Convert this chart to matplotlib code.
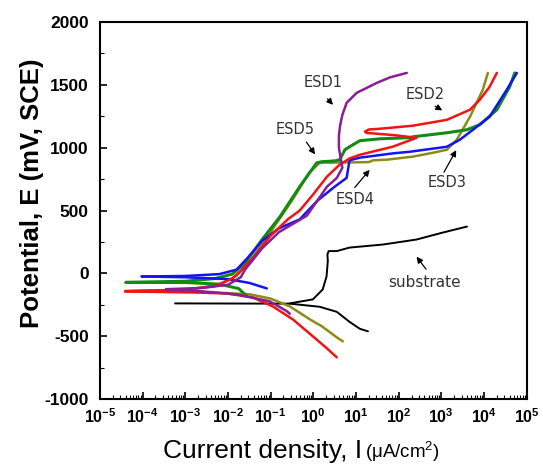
import matplotlib.pyplot as plt
import numpy as np
from matplotlib.ticker import LogLocator, NullFormatter

plt.rcParams['font.family'] = ['Liberation Sans', 'DejaVu Sans']
plt.rcParams['mathtext.fontset'] = 'custom'
plt.rcParams['mathtext.rm'] = 'Liberation Sans'
plt.rcParams['mathtext.bf'] = 'Liberation Sans:bold'
plt.rcParams['axes.unicode_minus'] = False

# log10 of current density (uA/cm2) and potential (mV vs SCE)
# substrate
sub_cat_logi = [-3.24, -0.55, 0.15, 0.55, 0.85, 1.09, 1.28]
sub_cat_e = [-238, -240, -265, -305, -385, -440, -460]
sub_an_logi = [-0.55, -0.01, 0.22, 0.31, 0.34, 0.33, 0.36, 0.55, 0.85, 1.63, 2.42, 3.03, 3.60]
sub_an_e = [-238, -206, -127, -24, 100, 151, 178, 178, 206, 230, 270, 325, 373]

# ESD1 (purple)
esd1_cat_logi = [-3.45, -2.59, -1.79, -1.02, -0.62, -0.55]
esd1_cat_e = [-125, -143, -167, -222, -300, -320]
esd1_an_logi = [-3.45, -2.6, -2.0, -1.7, -1.6, -1.2, -0.8, -0.15, 0.32, 0.55, 0.68, 0.64,
                0.6, 0.6, 0.63, 0.68, 0.78, 1.02, 1.49, 1.8, 2.19]
esd1_an_e = [-125, -115, -90, -30, 30, 200, 330, 460, 690, 760, 840, 920,
             1000, 1100, 1180, 1260, 1357, 1437, 1516, 1560, 1595]

# ESD2 (red)
esd2_cat_logi = [-4.41, -2.82, -2.03, -1.42, -0.95, -0.48, -0.01, 0.3, 0.55]
esd2_cat_e = [-143, -151, -159, -190, -262, -365, -500, -590, -667]
esd2_an_logi = [-4.41, -3.0, -2.3, -1.9, -1.7, -1.4, -1.0, -0.6, -0.32, 0.0, 0.32, 0.6, 0.85,
                1.09, 1.86, 2.42, 1.9, 1.25, 1.21, 1.3, 1.56, 2.33, 3.13, 3.67, 3.90, 4.13, 4.30]
esd2_an_e = [-140, -130, -100, -40, 20, 130, 300, 430, 500, 630, 770, 860, 915,
             944, 1008, 1079, 1100, 1118, 1128, 1145, 1151, 1175, 1222, 1302, 1381, 1484, 1595]

# ESD3 (blue)
esd3_cat_logi = [-4.02, -3.0, -2.0, -1.5, -1.09]
esd3_cat_e = [-24, -30, -45, -75, -119]
esd3_an_logi = [-4.02, -3.0, -2.2, -1.8, -1.55, -1.2, -0.8, -0.32, 0.1, 0.5, 0.78, 0.85,
                1.09, 1.86, 2.26, 3.13, 3.43, 3.74, 4.13, 4.53, 4.77]
esd3_an_e = [-24, -20, -5, 30, 120, 260, 360, 430, 580, 690, 760, 900,
             921, 955, 968, 1008, 1063, 1143, 1246, 1460, 1595]

# ESD4 (olive)
esd4_cat_logi = [-4.4, -2.5, -1.5, -1.0, -0.55, -0.08, 0.2, 0.55, 0.69]
esd4_cat_e = [-143, -148, -165, -200, -262, -365, -420, -508, -540]
esd4_an_logi = [-4.4, -3.0, -2.2, -1.8, -1.45, -1.0, -0.5, -0.1, 0.15, 1.0, 1.3, 1.4, 1.72,
                2.33, 2.8, 3.13, 3.36, 3.67, 3.97, 4.09]
esd4_an_e = [-140, -130, -90, -20, 110, 330, 580, 800, 881, 884, 886, 900, 905,
             929, 960, 984, 1063, 1246, 1460, 1595]

# ESD5 (green)
esd5_cat_logi = [-4.39, -3.0, -2.2, -1.75, -1.56]
esd5_cat_e = [-71, -72, -85, -120, -180]
esd5_an_logi = [-4.39, -3.0, -2.3, -1.9, -1.6, -1.2, -0.78, -0.32, 0.08, 0.2, 0.5, 0.62, 0.74,
                0.85, 1.09, 1.56, 2.26, 2.33, 3.13, 3.60, 3.90, 4.30, 4.60, 4.72]
esd5_an_e = [-71, -62, -40, -5, 80, 270, 452, 690, 880, 889, 895, 905, 984,
             1008, 1056, 1071, 1080, 1087, 1119, 1143, 1183, 1302, 1484, 1595]

fig = plt.figure(figsize=(5.43, 4.68), dpi=100)
ax = fig.add_axes([0.184, 0.147, 0.786, 0.806])

curves = [
    (sub_cat_logi, sub_cat_e, sub_an_logi, sub_an_e, 'black', 1.4),
    (esd4_cat_logi, esd4_cat_e, esd4_an_logi, esd4_an_e, '#8c8c14', 1.8),
    (esd5_cat_logi, esd5_cat_e, esd5_an_logi, esd5_an_e, '#138a13', 2.2),
    (esd3_cat_logi, esd3_cat_e, esd3_an_logi, esd3_an_e, '#1414f0', 1.8),
    (esd2_cat_logi, esd2_cat_e, esd2_an_logi, esd2_an_e, '#f01414', 1.8),
    (esd1_cat_logi, esd1_cat_e, esd1_an_logi, esd1_an_e, '#8a1e96', 1.8),
]
for cl, ce, al, ae, col, lw in curves:
    ax.plot(np.power(10.0, cl), ce, color=col, lw=lw, solid_capstyle='round')
    ax.plot(np.power(10.0, al), ae, color=col, lw=lw, solid_capstyle='round')

ax.set_xscale('log')
ax.set_xlim(1e-5, 1e5)
ax.set_ylim(-1000, 2000)
ax.set_xticks([10.0 ** k for k in range(-5, 6)])
ax.set_xticklabels([r'$\mathbf{10^{%d}}$' % k for k in range(-5, 6)], fontsize=11.5)
ax.xaxis.set_minor_locator(LogLocator(base=10, subs=np.arange(2, 10), numticks=200))
ax.xaxis.set_minor_formatter(NullFormatter())
ax.set_yticks(range(-1000, 2001, 500))
ax.set_yticks(range(-1000, 2001, 250), minor=True)
ax.tick_params(axis='both', which='both', direction='in', top=False, right=False)
ax.tick_params(axis='both', which='major', length=5, width=1.2)
ax.tick_params(axis='both', which='minor', length=3, width=0.8)
ax.tick_params(axis='y', which='major', pad=8)
ax.tick_params(axis='x', which='major', pad=6)
for lbl in ax.get_yticklabels():
    lbl.set_fontweight('bold')
    lbl.set_fontsize(12.5)
for sp in ax.spines.values():
    sp.set_linewidth(1.5)

fig.text(32 / 543, 1 - 193 / 468, 'Potential, E (mV, SCE)', rotation=90, ha='center', va='center',
         fontsize=18.5, fontweight='bold')
fig.text(362 / 543, 1 - 458 / 468, 'Current density, I', ha='right', va='baseline', fontsize=19)
fig.text(365 / 543, 1 - 458 / 468, r'($\mathregular{\mu}$A/cm$^2$)', ha='left', va='baseline', fontsize=13.5)

ann_font = ['DejaVu Sans']
notes = [
    ('ESD1', 1.66, 1516, 1.95, 1405, 3.2, 1325, 10.5),
    ('ESD5', 0.37, 1143, 0.63, 1063, 1.2, 929, 10.5),
    ('ESD2', 410, 1421, 630, 1341, 1200, 1286, 10.5),
    ('ESD3', 1350, 722, 1070, 786, 2400, 1000, 10.5),
    ('ESD4', 9.3, 587, 8.5, 667, 23, 841, 10.5),
    ('substrate', 410, -71, 480, 16, 240, 151, 11),
]
for label, tx, ty, sx, sy, hx, hy, fs in notes:
    ax.text(tx, ty, label, ha='center', va='center', fontsize=fs, family=ann_font, color='#333333')
    ax.annotate('', xy=(hx, hy), xytext=(sx, sy),
                arrowprops=dict(arrowstyle='-|>', color='black', lw=0.9, mutation_scale=9))

plt.savefig('out.png', dpi=100)
